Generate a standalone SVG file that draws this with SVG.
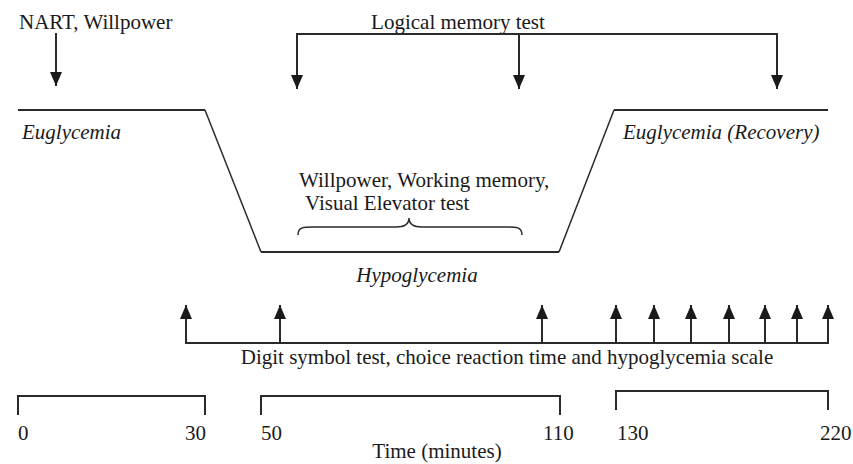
<svg xmlns="http://www.w3.org/2000/svg" width="853" height="464" viewBox="0 0 853 464">
  <style>
    text { font-family: "Liberation Serif", "Times New Roman", serif; font-size: 21px; fill: #1a1a1a; }
    .it { font-style: italic; }
    .ln { fill: none; stroke: #2a2a2a; stroke-width: 2; }
    .thin { fill: none; stroke: #2a2a2a; stroke-width: 1.5; }
  </style>
  <defs>
    <marker id="head" markerUnits="userSpaceOnUse" markerWidth="14" markerHeight="12" refX="14" refY="6" orient="auto">
      <path d="M0,0 L14,6 L0,12 z" fill="#1a1a1a"/>
    </marker>
  </defs>

  <rect width="853" height="464" fill="#ffffff"/>

  <!-- glucose profile: euglycemia, hypoglycemia, recovery -->
  <g id="glucose-profile">
    <polyline class="ln" points="18,110 205,110"/>
    <polyline class="thin" points="205,110 261,252"/>
    <polyline class="ln" points="261,252 559,252"/>
    <polyline class="thin" points="559,252 614,110"/>
    <polyline class="ln" points="614,110 828,110"/>
    <text class="it" x="22" y="139">Euglycemia</text>
    <text class="it" x="623" y="139">Euglycemia (Recovery)</text>
    <text class="it" x="417" y="282" text-anchor="middle">Hypoglycemia</text>
  </g>

  <!-- baseline tests -->
  <g id="nart">
    <text x="19" y="29">NART, Willpower</text>
  </g>

  <g id="logical-memory">
    <text x="458" y="29" text-anchor="middle">Logical memory test</text>
  </g>

  <g id="hypo-tests">
    <text x="299" y="187">Willpower, Working memory,</text>
    <text x="305" y="210">Visual Elevator test</text>
    <path class="thin" d="M298,235 C298,226 305,227 318,227 L396,227 C405,227 409,224 409,218 C409,224 413,227 422,227 L502,227 C515,227 522,226 522,235"/>
  </g>

  <g id="digit-symbol">
    <text x="507" y="364" text-anchor="middle">Digit symbol test, choice reaction time and hypoglycemia scale</text>
  </g>

  <!-- connectors -->
  <g id="connectors">
    <line class="ln" x1="56" y1="33" x2="56" y2="86" marker-end="url(#head)"/>

    <polyline class="ln" points="297,34 777,34 777,89" marker-end="url(#head)"/>
    <line class="ln" x1="297" y1="33" x2="297" y2="89" marker-end="url(#head)"/>
    <line class="ln" x1="519" y1="34" x2="519" y2="89" marker-end="url(#head)"/>

    <line class="ln" x1="185" y1="343" x2="829" y2="343"/>
    <line class="ln" x1="186" y1="343" x2="186" y2="305" marker-end="url(#head)"/>
    <line class="ln" x1="280" y1="343" x2="280" y2="305" marker-end="url(#head)"/>
    <line class="ln" x1="542" y1="343" x2="542" y2="305" marker-end="url(#head)"/>
    <line class="ln" x1="616" y1="343" x2="616" y2="305" marker-end="url(#head)"/>
    <line class="ln" x1="654" y1="343" x2="654" y2="305" marker-end="url(#head)"/>
    <line class="ln" x1="691" y1="343" x2="691" y2="305" marker-end="url(#head)"/>
    <line class="ln" x1="729" y1="343" x2="729" y2="305" marker-end="url(#head)"/>
    <line class="ln" x1="765" y1="343" x2="765" y2="305" marker-end="url(#head)"/>
    <line class="ln" x1="797" y1="343" x2="797" y2="305" marker-end="url(#head)"/>
    <line class="ln" x1="828" y1="343" x2="828" y2="305" marker-end="url(#head)"/>
  </g>

  <!-- time axis -->
  <g id="time-axis">
    <polyline class="ln" points="18,415 18,396 205,396 205,415"/>
    <polyline class="ln" points="261,415 261,396 560,396 560,415"/>
    <polyline class="ln" points="616,410 616,391 828,391 828,410"/>
    <text x="18" y="440">0</text>
    <text x="206" y="440" text-anchor="end">30</text>
    <text x="261" y="440">50</text>
    <text x="543" y="440">110</text>
    <text x="617" y="440">130</text>
    <text x="820" y="440">220</text>
    <text x="437" y="458" text-anchor="middle">Time (minutes)</text>
  </g>
</svg>
